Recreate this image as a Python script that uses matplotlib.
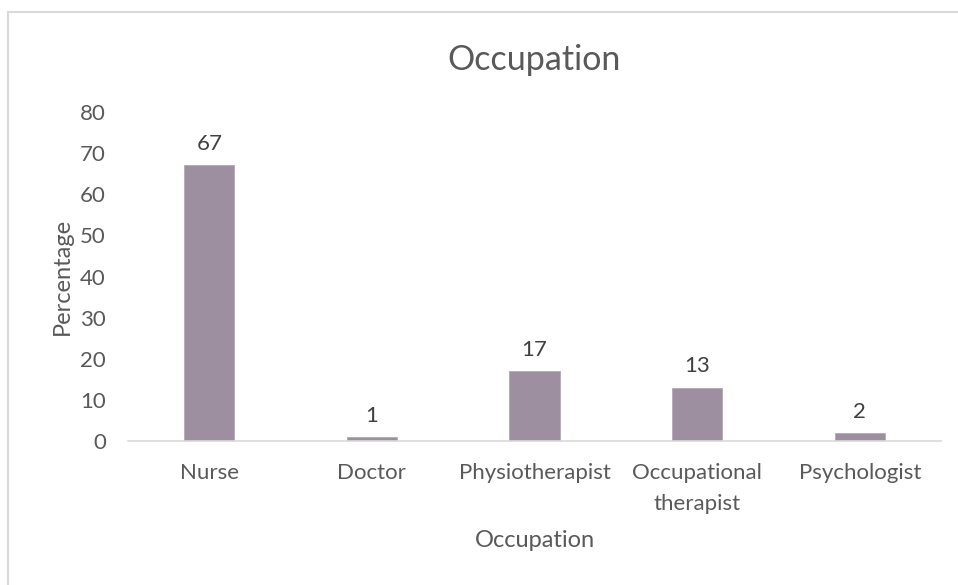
import matplotlib.pyplot as plt
from matplotlib.patches import Rectangle

categories = ["Nurse", "Doctor", "Physiotherapist", "Occupational\ntherapist", "Psychologist"]
values = [67, 1, 17, 13, 2]
y_ticks = [0, 10, 20, 30, 40, 50, 60, 70, 80]

plt.rcParams['font.family'] = ['Lato', 'DejaVu Sans']
txt = "#595959"

fig = plt.figure(figsize=(9.58, 5.85), dpi=100)
# chart frame: only the left and top edges fall inside the picture
fig.patches.append(Rectangle((7.5 / 958, -0.1), 1.2, 1.1 - 12 / 585,
                             transform=fig.transFigure, fill=False,
                             edgecolor="#D9D9D9", linewidth=1.5))
ax = fig.add_axes([0.1336, 0.2462, 0.8487, 0.5623])

x = range(len(categories))
bars = ax.bar(x, values, width=0.31, color="#9E8FA0", edgecolor="#B4A8B6", linewidth=0.6)
for xi, v in zip(x, values):
    ax.annotate(str(v), (xi, v), xytext=(0, 8), textcoords="offset points",
                ha="center", va="bottom", fontsize=16, color="#404040")

ax.set_xlim(-0.5, len(categories) - 0.5)
ax.set_ylim(0, 80)
ax.set_yticks(y_ticks)
ax.set_xticks(list(x))
ax.set_xticklabels(categories, fontsize=16, color=txt, linespacing=1.65)
ax.tick_params(axis="y", labelsize=16, labelcolor=txt, length=0, pad=16)
ax.tick_params(axis="x", length=0, pad=16)

for s in ["top", "right", "left"]:
    ax.spines[s].set_visible(False)
ax.spines["bottom"].set_color("#D9D9D9")
ax.spines["bottom"].set_linewidth(1.2)

ax.set_title("Occupation", fontsize=24.5, color=txt, pad=30)
ax.set_xlabel("Occupation", fontsize=17, color=txt)
ax.set_ylabel("Percentage", fontsize=17, color=txt)
ax.xaxis.set_label_coords(0.5, -0.27)
ax.yaxis.set_label_coords(-0.081, 0.5)
ax.yaxis.label.set_va("center")

fig.savefig("out.png", dpi=100)
